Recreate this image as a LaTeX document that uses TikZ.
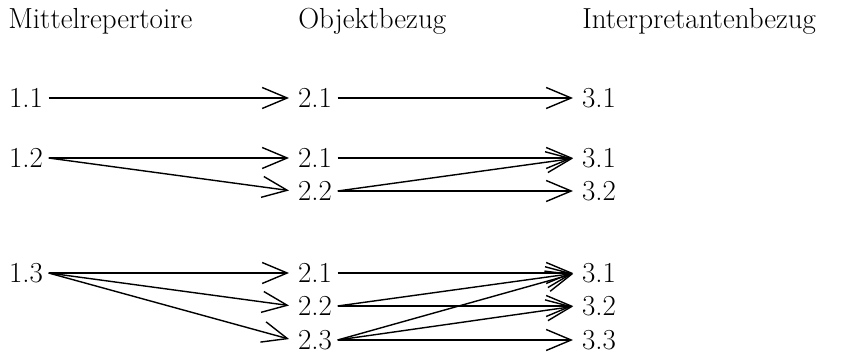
\documentclass[tikz,border=0pt]{standalone}
\usetikzlibrary{positioning,arrows.meta}

\begin{document}
\begin{tikzpicture}[
  sign/.style={inner ysep=1pt, inner xsep=3pt, anchor=west, font=\fontsize{16.5}{20}\selectfont},
  head/.style={inner sep=0pt, anchor=base west, font=\fontsize{16.5}{20}\selectfont},
  direct/.style={-{Straight Barb[length=5mm,width=4.2mm]}, line width=0.8pt, shorten >=2pt}
]
\useasboundingbox (0,0) rectangle (16.82,-7.16);

% Headers
\node[head] (Mittel) at (0.16,-0.58) {Mittelrepertoire};
\node[head] (Objekt) at (5.96,-0.58) {Objektbezug};
\node[head] (Interp) at (11.64,-0.58) {Interpretantenbezug};

% Group 1
\node[sign] (MA) at (0.07,-1.96) {1.1};
\node[sign] (OA1) at (5.85,-1.96) {2.1};
\node[sign] (IA1) at (11.53,-1.96) {3.1};

% Group 2
\node[sign] (MB) at (0.07,-3.16) {1.2};
\node[sign] (OB1) at (5.85,-3.16) {2.1};
\node[sign] (OB2) at (5.85,-3.82) {2.2};
\node[sign] (IB1) at (11.53,-3.16) {3.1};
\node[sign] (IB2) at (11.53,-3.82) {3.2};

% Group 3
\node[sign] (MC) at (0.07,-5.46) {1.3};
\node[sign] (OC1) at (5.85,-5.46) {2.1};
\node[sign] (OC2) at (5.85,-6.12) {2.2};
\node[sign] (OC3) at (5.85,-6.80) {2.3};
\node[sign] (IC1) at (11.53,-5.46) {3.1};
\node[sign] (IC2) at (11.53,-6.12) {3.2};
\node[sign] (IC3) at (11.53,-6.80) {3.3};

% Group 1 arrows
\draw[direct] (MA.east) -- (OA1.west);
\draw[direct] (OA1.east) -- (IA1.west);

% Group 2 arrows
\draw[direct] (MB.east) -- (OB1.west);
\draw[direct] (MB.east) -- (OB2.west);
\draw[direct] (OB1.east) -- (IB1.west);
\draw[direct] (OB2.east) -- (IB1.west);
\draw[direct] (OB2.east) -- (IB2.west);

% Group 3 arrows
\draw[direct] (MC.east) -- (OC1.west);
\draw[direct] (MC.east) -- (OC2.west);
\draw[direct] (MC.east) -- (OC3.west);
\draw[direct] (OC1.east) -- (IC1.west);
\draw[direct] (OC2.east) -- (IC1.west);
\draw[direct] (OC2.east) -- (IC2.west);
\draw[direct] (OC3.east) -- (IC1.west);
\draw[direct] (OC3.east) -- (IC2.west);
\draw[direct] (OC3.east) -- (IC3.west);

\end{tikzpicture}
\end{document}
